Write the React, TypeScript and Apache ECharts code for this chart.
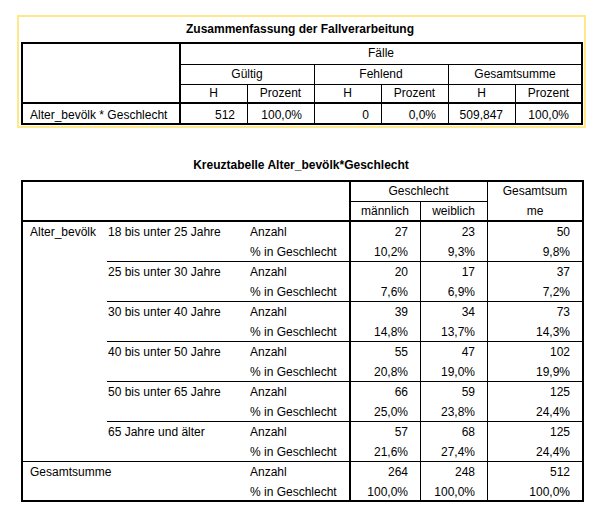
import React, { useEffect, useRef } from "react";
import * as echarts from "echarts";

// ---- Data ----
const summaryTitle = "Zusammenfassung der Fallverarbeitung";
const summaryRowLabel = "Alter_bevölk * Geschlecht";
const summaryTopHeader = "Fälle";
const summaryGroups = ["Gültig", "Fehlend", "Gesamtsumme"];
const summarySubHeaders = ["H", "Prozent"];
const summaryCounts = ["512", "0", "509,847"];
const summaryPercents = [100.0, 0.0, 100.0];

const crossTitle = "Kreuztabelle Alter_bevölk*Geschlecht";
const rowVariable = "Alter_bevölk";
const colVariable = "Geschlecht";
const genders = ["männlich", "weiblich"];
const totalHeaderLines = ["Gesamtsum", "me"];
const totalRowLabel = "Gesamtsumme";
const statLabels = ["Anzahl", "% in Geschlecht"];
const ageGroups = [
  "18 bis unter 25 Jahre",
  "25 bis unter 30 Jahre",
  "30 bis unter 40 Jahre",
  "40 bis unter 50 Jahre",
  "50 bis unter 65 Jahre",
  "65 Jahre und älter",
];
const maleCounts = [27, 20, 39, 55, 66, 57];
const femaleCounts = [23, 17, 34, 47, 59, 68];
const totalCounts = [50, 37, 73, 102, 125, 125];
const malePct = [10.2, 7.6, 14.8, 20.8, 25.0, 21.6];
const femalePct = [9.3, 6.9, 13.7, 19.0, 23.8, 27.4];
const totalPct = [9.8, 7.2, 14.3, 19.9, 24.4, 24.4];
const grandCounts = [264, 248, 512];
const grandPct = [100.0, 100.0, 100.0];

const FONT = '"Liberation Sans", Arial, sans-serif';

function pct(v: number): string {
  return v.toFixed(1).replace(".", ",") + "%";
}

function buildGraphics(): any[] {
  const els: any[] = [];
  const txt = (
    x: number,
    y: number,
    text: string,
    align: string = "left",
    bold = false
  ) => {
    els.push({
      type: "text",
      x,
      y,
      silent: true,
      style: {
        text,
        fill: "#000",
        font: `${bold ? "bold " : ""}12px ${FONT}`,
        align,
        verticalAlign: "middle",
      },
    });
  };
  const line = (x1: number, y1: number, x2: number, y2: number, w: number) => {
    els.push({
      type: "line",
      silent: true,
      shape: { x1, y1, x2, y2 },
      style: { stroke: "#000", lineWidth: w },
    });
  };
  const hThin = (x1: number, x2: number, y: number) => line(x1, y + 0.5, x2, y + 0.5, 1);
  const vThin = (x: number, y1: number, y2: number) => line(x + 0.5, y1, x + 0.5, y2, 1);
  const hThick = (x1: number, x2: number, y: number) => line(x1, y, x2, y, 2);
  const vThick = (x: number, y1: number, y2: number) => line(x, y1, x, y2, 2);

  // ---------- Summary table ----------
  els.push({
    type: "rect",
    silent: true,
    shape: { x: 18, y: 16, width: 567, height: 111 },
    style: { fill: "none", stroke: "#FFE88A", lineWidth: 2 },
  });
  txt(300, 29, summaryTitle, "center", true);

  const sL = 22, sR = 582, sT = 43, sB = 124;
  const sRowCol = 180;
  const sCols = [180, 247, 314, 381, 448, 515, 582];
  const sRows = [43, 64, 84, 103, 124];

  // lines
  hThin(sRowCol, sR, sRows[1]);
  hThin(sRowCol, sR, sRows[2]);
  for (let g = 1; g < summaryGroups.length; g++) vThin(sCols[g * 2], sRows[1], sB);
  for (let g = 0; g < summaryGroups.length; g++) vThin(sCols[g * 2 + 1], sRows[2], sB);
  hThick(sL, sR, sRows[3]);
  vThick(sRowCol, sT, sB);
  els.push({
    type: "rect",
    silent: true,
    shape: { x: sL, y: sT, width: sR - sL, height: sB - sT },
    style: { fill: "none", stroke: "#000", lineWidth: 2 },
  });

  // texts
  const mid = (a: number, b: number) => (a + b) / 2;
  txt(mid(sRowCol, sR), mid(sRows[0], sRows[1]) - 0.5, summaryTopHeader, "center");
  summaryGroups.forEach((g, i) => {
    txt(mid(sCols[i * 2], sCols[i * 2 + 2]), mid(sRows[1], sRows[2]) - 0.5, g, "center");
    summarySubHeaders.forEach((s, j) => {
      txt(mid(sCols[i * 2 + j], sCols[i * 2 + j + 1]), mid(sRows[2], sRows[3]) - 1, s, "center");
    });
    const yv = mid(sRows[3], sRows[4]) + 1;
    txt(sCols[i * 2 + 1] - 12, yv, summaryCounts[i], "right");
    txt(sCols[i * 2 + 2] - (i === summaryGroups.length - 1 ? 13 : 12), yv, pct(summaryPercents[i]), "right");
  });
  txt(30, mid(sRows[3], sRows[4]) + 1, summaryRowLabel, "left");

  // ---------- Cross table ----------
  txt(301, 165, crossTitle, "center", true);
  const cL = 22, cR = 583, cT = 181, cHeadMid = 201, cHeadB = 221;
  const rowH = 20;
  const groupH = rowH * 2;
  const cB = cHeadB + groupH * (ageGroups.length + 1);
  const colLabel2 = 107;
  const colLabel3 = 250;
  const cData = [350, 420, 487, 583];

  // lines
  hThin(cData[0], cData[2], cHeadMid);
  vThin(cData[1], cHeadMid, cB);
  vThin(cData[2], cT, cB);
  for (let g = 1; g < ageGroups.length; g++) {
    hThin(colLabel2, cR, cHeadB + g * groupH);
  }
  hThin(cL, cR, cHeadB + ageGroups.length * groupH);
  hThick(cL, cR, cHeadB);
  vThick(cData[0], cT, cB);
  els.push({
    type: "rect",
    silent: true,
    shape: { x: cL, y: cT, width: cR - cL, height: cB - cT },
    style: { fill: "none", stroke: "#000", lineWidth: 2 },
  });

  // header texts
  txt(mid(cData[0], cData[2]), mid(cT, cHeadMid), colVariable, "center");
  genders.forEach((g, i) => txt(mid(cData[i], cData[i + 1]), mid(cHeadMid, cHeadB), g, "center"));
  txt(mid(cData[2], cData[3]), mid(cT, cHeadMid), totalHeaderLines[0], "center");
  txt(mid(cData[2], cData[3]), mid(cHeadMid, cHeadB), totalHeaderLines[1], "center");

  const rightX = [cData[1] - 12, cData[2] - 12, cData[3] - 13];
  const rowY = (g: number, r: number) => cHeadB + g * groupH + r * rowH + rowH / 2 + 0.5;

  txt(30, rowY(0, 0), rowVariable, "left");
  ageGroups.forEach((a, g) => {
    txt(colLabel2 + 1, rowY(g, 0), a, "left");
    statLabels.forEach((s, r) => txt(colLabel3, rowY(g, r), s, "left"));
    const counts = [maleCounts[g], femaleCounts[g], totalCounts[g]];
    const pcts = [malePct[g], femalePct[g], totalPct[g]];
    counts.forEach((c, k) => txt(rightX[k], rowY(g, 0), String(c), "right"));
    pcts.forEach((p, k) => txt(rightX[k], rowY(g, 1), pct(p), "right"));
  });
  const gt = ageGroups.length;
  txt(30, rowY(gt, 0), totalRowLabel, "left");
  statLabels.forEach((s, r) => txt(colLabel3, rowY(gt, r), s, "left"));
  grandCounts.forEach((c, k) => txt(rightX[k], rowY(gt, 0), String(c), "right"));
  grandPct.forEach((p, k) => txt(rightX[k], rowY(gt, 1), pct(p), "right"));

  return els;
}

export default function App() {
  const ref = useRef<HTMLDivElement>(null);
  useEffect(() => {
    if (!ref.current) return;
    const chart = echarts.init(ref.current, undefined, { renderer: "svg" });
    chart.setOption({
      animation: false,
      backgroundColor: "#ffffff",
      graphic: { elements: buildGraphics() },
    });
    return () => chart.dispose();
  }, []);
  return (
    <div
      ref={ref}
      style={{ position: "fixed", left: 0, top: 0, width: 615, height: 517, background: "#fff" }}
    />
  );
}
